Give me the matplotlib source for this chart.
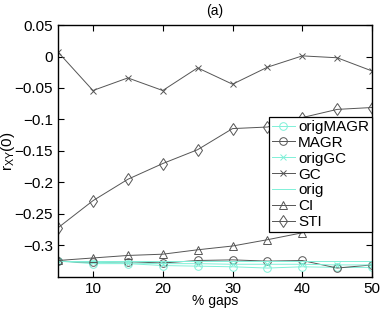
import matplotlib
matplotlib.use('Agg')
import matplotlib.pyplot as plt
from matplotlib.ticker import FuncFormatter

plt.rcParams['font.family'] = ['Liberation Sans', 'DejaVu Sans']
plt.rcParams['mathtext.fontset'] = 'custom'
plt.rcParams['mathtext.rm'] = 'Liberation Sans'

gaps = [5, 10, 15, 20, 25, 30, 35, 40, 45, 50]

orig_magr = [-0.325, -0.329, -0.329, -0.332, -0.333, -0.334, -0.336, -0.334, -0.335, -0.335]
magr = [-0.325, -0.327, -0.326, -0.328, -0.324, -0.323, -0.325, -0.324, -0.336, -0.331]
orig_gc = [-0.325, -0.327, -0.328, -0.329, -0.329, -0.330, -0.330, -0.330, -0.331, -0.331]
gc = [0.007, -0.054, -0.034, -0.054, -0.018, -0.044, -0.017, 0.001, -0.002, -0.023]
orig = [-0.325, -0.325, -0.325, -0.325, -0.325, -0.325, -0.325, -0.325, -0.325, -0.325]
ci = [-0.324, -0.320, -0.316, -0.314, -0.307, -0.301, -0.291, -0.280, -0.270, -0.262]
sti = [-0.272, -0.229, -0.195, -0.170, -0.148, -0.1145, -0.112, -0.097, -0.084, -0.081]

cyan = '#80f0d8'
gray = '#555555'

fig = plt.figure(figsize=(3.82, 3.09), dpi=100)
ax = fig.add_axes([0.152, 0.104, 0.822, 0.815])

lw = 0.7
ax.plot(gaps, orig_magr, color=cyan, lw=lw, marker='o', ms=5.5, mfc='none', mew=0.7, label='origMAGR')
ax.plot(gaps, magr, color=gray, lw=lw, marker='o', ms=5.5, mfc='none', mew=0.7, label='MAGR')
ax.plot(gaps, orig_gc, color=cyan, lw=lw, marker='x', ms=4, mew=0.7, label='origGC')
ax.plot(gaps, gc, color=gray, lw=lw, marker='x', ms=4, mew=0.7, label='GC')
ax.plot(gaps, orig, color=cyan, lw=lw, label='orig')
ax.plot(gaps, ci, color=gray, lw=lw, marker='^', ms=6, mfc='none', mew=0.7, label='CI')
ax.plot(gaps, sti, color=gray, lw=lw, marker='d', ms=6.5, mfc='none', mew=0.7, label='STI')

ax.set_xlim(5, 50)
ax.set_ylim(-0.35, 0.05)
ax.set_xticks([10, 20, 30, 40, 50])
ax.set_yticks([-0.3, -0.25, -0.2, -0.15, -0.1, -0.05, 0, 0.05])
ax.yaxis.set_major_formatter(FuncFormatter(lambda v, p: ('%g' % round(v, 3)).replace('-', '\u2212')))
ax.tick_params(direction='in', top=True, right=True, labelsize=11, length=4, width=0.8)
for s in ax.spines.values():
    s.set_linewidth(1.0)

ax.set_title('(a)', fontsize=10, pad=7)
ax.set_xlabel('% gaps', fontsize=10)
ax.xaxis.set_label_coords(0.5, -0.07)
ax.set_ylabel(r'$\mathregular{r_{XY}(0)}$', fontsize=11)
ax.yaxis.set_label_coords(-0.13, 0.5)

leg = ax.legend(loc='upper right', bbox_to_anchor=(1.0, 0.635), fontsize=11,
                frameon=True, fancybox=False, edgecolor='black', framealpha=1,
                borderaxespad=0, handlelength=1.5, handletextpad=0.2,
                labelspacing=0.12, borderpad=0.2)
leg.get_frame().set_linewidth(0.9)

fig.savefig('out.png', dpi=100)
